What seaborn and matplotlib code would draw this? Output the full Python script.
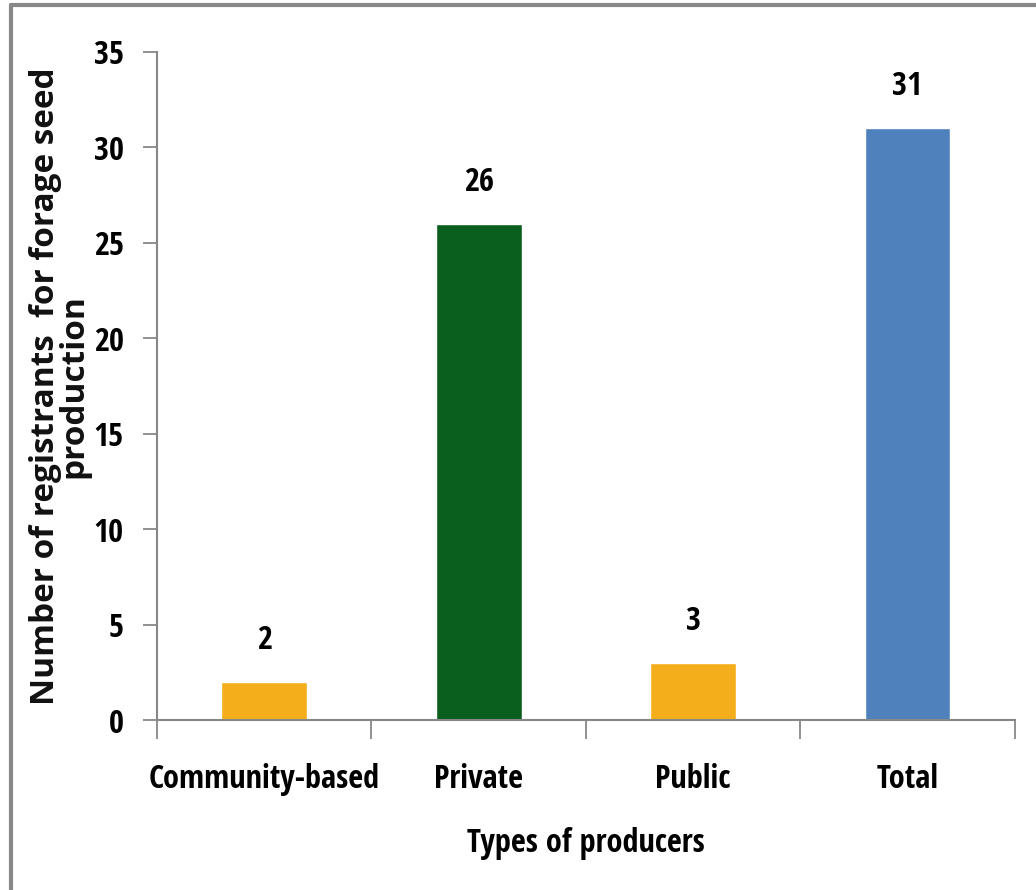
import matplotlib
matplotlib.use("Agg")
import matplotlib.pyplot as plt
from matplotlib.lines import Line2D
from matplotlib.font_manager import FontProperties, fontManager
from matplotlib.textpath import TextPath
import seaborn as sns
import pandas as pd
import numpy as np

categories = ["Community-based", "Private", "Public", "Total"]
values = [2, 26, 3, 31]
colors = ["#F5AE1B", "#0A5E1E", "#F5AE1B", "#4F81BD"]
y_ticks = [0, 5, 10, 15, 20, 25, 30, 35]
x_title = "Types of producers"
y_title = "Number of registrants  for forage seed\nproduction"

# pick a condensed bold face similar to the (squeezed) Calibri Bold of the reference
avail = {f.name for f in fontManager.ttflist}
candidates = ["Open Sans Condensed", "Fira Sans Extra Condensed", "Barlow Condensed",
              "Encode Sans Condensed", "Roboto Condensed", "PT Sans Narrow", "Archivo Narrow",
              "Liberation Sans Narrow", "Carlito", "Open Sans"]
cond_family = next(c for c in candidates if c in avail)

sns.set_theme(style="white")
plt.rcParams["font.family"] = [cond_family, "DejaVu Sans"]
plt.rcParams["text.color"] = "black"

def cfont(size):
    return FontProperties(family=[cond_family, "DejaVu Sans"], weight="bold", size=size)

PX = 100 / 72.0
def fit_size(text, cap_px, width_px):
    ext_w = TextPath((0, 0), text, prop=cfont(10)).get_extents().width * PX
    ext_h = TextPath((0, 0), "H", prop=cfont(10)).get_extents().height * PX
    s_w = 10 * width_px / ext_w
    s_h = 10 * cap_px / ext_h
    return float(np.sqrt(s_w * s_h))

cat_size = fit_size(categories[0], 25, 211)
num_size = fit_size("35", 23, 28)

df = pd.DataFrame({"cat": categories, "val": values})
fig = plt.figure(figsize=(10.36, 8.9), dpi=100)
ax = fig.add_axes([0.1515, 0.191, 0.828, 0.7506])
sns.barplot(data=df, x="cat", y="val", hue="cat", palette=colors, legend=False,
            width=0.4, ax=ax, saturation=1)

ax.set_ylim(0, 35)
ax.set_xlim(-0.5, 3.5)
ax.set_yticks(y_ticks)
ax.set_yticklabels([str(t) for t in y_ticks], fontproperties=cfont(num_size), color="black")
ax.set_xticks(range(len(categories)))
ax.set_xticklabels(categories, fontproperties=cfont(cat_size), color="black")
ax.set_xticks(np.arange(-0.5, 3.6, 1.0), minor=True)
ax.tick_params(axis="x", which="major", length=0, pad=31)
ax.tick_params(axis="x", which="minor", length=14, width=1.3, color="#888888", direction="out", bottom=True)
ax.tick_params(axis="y", length=10, width=1.3, color="#888888", direction="out", left=True, pad=14)

for s in ["top", "right"]:
    ax.spines[s].set_visible(False)
for s in ["left", "bottom"]:
    ax.spines[s].set_color("#888888")
    ax.spines[s].set_linewidth(1.5)

for p, v in zip(ax.patches, values):
    ax.annotate(str(v), (p.get_x() + p.get_width() / 2, p.get_height()),
                xytext=(0, 18), textcoords="offset points", ha="center", va="bottom",
                fontproperties=cfont(num_size), color="black")

ax.set_xlabel(x_title, fontproperties=cfont(cat_size), labelpad=22, color="black")
ax.set_ylabel(y_title,
              fontproperties=FontProperties(family=["Open Sans", "DejaVu Sans"], weight="bold", size=24),
              linespacing=0.82, labelpad=2, color="#111111")

fig.add_artist(Line2D([11/1036, 11/1036], [0, 1 - 5/890], transform=fig.transFigure, color="#888888", lw=3))
fig.add_artist(Line2D([11/1036, 1], [1 - 5/890, 1 - 5/890], transform=fig.transFigure, color="#888888", lw=3))

fig.savefig("out.png", dpi=100, facecolor="white")
